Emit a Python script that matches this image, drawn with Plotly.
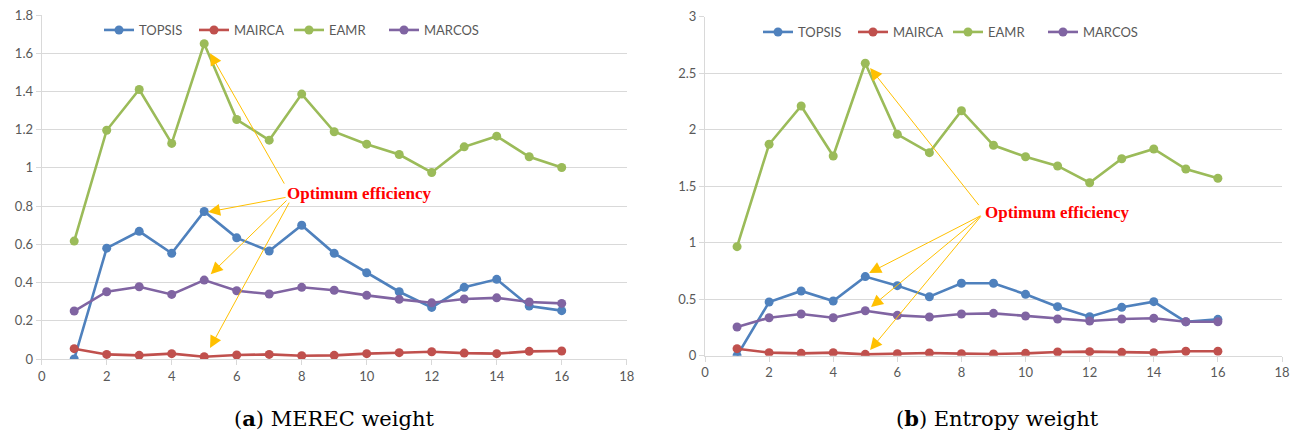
import plotly.graph_objects as go

x_alt = list(range(1, 17))
methods = ["TOPSIS", "MAIRCA", "EAMR", "MARCOS"]
colors = {"TOPSIS": "#4F81BD", "MAIRCA": "#C0504D", "EAMR": "#9BBB59", "MARCOS": "#8064A2"}

# (a) MEREC weight
merec_topsis = [0.0, 0.58, 0.668, 0.553, 0.772, 0.634, 0.565, 0.70, 0.553, 0.451, 0.352, 0.27, 0.375, 0.417, 0.277, 0.253]
merec_mairca = [0.054, 0.024, 0.019, 0.028, 0.012, 0.021, 0.024, 0.017, 0.019, 0.028, 0.033, 0.038, 0.031, 0.028, 0.040, 0.042]
merec_eamr = [0.617, 1.197, 1.41, 1.128, 1.65, 1.253, 1.145, 1.386, 1.189, 1.124, 1.07, 0.976, 1.11, 1.166, 1.058, 1.002]
merec_marcos = [0.251, 0.352, 0.378, 0.338, 0.413, 0.357, 0.34, 0.375, 0.36, 0.333, 0.312, 0.294, 0.314, 0.32, 0.298, 0.291]

# (b) Entropy weight
ent_topsis = [0.0, 0.475, 0.573, 0.484, 0.70, 0.62, 0.522, 0.641, 0.641, 0.543, 0.434, 0.345, 0.428, 0.478, 0.30, 0.322]
ent_mairca = [0.062, 0.027, 0.021, 0.027, 0.012, 0.018, 0.024, 0.018, 0.015, 0.021, 0.033, 0.036, 0.03, 0.027, 0.039, 0.039]
ent_eamr = [0.965, 1.871, 2.21, 1.767, 2.588, 1.959, 1.797, 2.168, 1.862, 1.761, 1.679, 1.531, 1.743, 1.829, 1.652, 1.570]
ent_marcos = [0.254, 0.336, 0.369, 0.336, 0.398, 0.357, 0.342, 0.369, 0.375, 0.351, 0.325, 0.307, 0.325, 0.331, 0.30, 0.30]

x_ticks = list(range(0, 19, 2))
left_y_ticks = [0, 0.2, 0.4, 0.6, 0.8, 1.0, 1.2, 1.4, 1.6, 1.8]
left_y_labels = ["0", "0.2", "0.4", "0.6", "0.8", "1", "1.2", "1.4", "1.6", "1.8"]
right_y_ticks = [0, 0.5, 1, 1.5, 2, 2.5, 3]
right_y_labels = ["0", "0.5", "1", "1.5", "2", "2.5", "3"]

captions = ["(<b>a</b>) MEREC weight", "(<b>b</b>) Entropy weight"]
note = "Optimum efficiency"

W, H = 1295, 436
GRAY = "#595959"
GRID = "#D9D9D9"
TICKFONT = dict(family="Lato, Open Sans, sans-serif", size=13, color=GRAY)

fig = go.Figure()

left = {"TOPSIS": merec_topsis, "MAIRCA": merec_mairca, "EAMR": merec_eamr, "MARCOS": merec_marcos}
right = {"TOPSIS": ent_topsis, "MAIRCA": ent_mairca, "EAMR": ent_eamr, "MARCOS": ent_marcos}

for m in methods:
    fig.add_trace(go.Scatter(x=x_alt, y=left[m], name=m, mode="lines+markers",
                             line=dict(color=colors[m], width=2.6),
                             marker=dict(color=colors[m], size=9),
                             xaxis="x", yaxis="y", legend="legend"))
for m in methods:
    fig.add_trace(go.Scatter(x=x_alt, y=right[m], name=m, mode="lines+markers",
                             line=dict(color=colors[m], width=2.6),
                             marker=dict(color=colors[m], size=9),
                             xaxis="x2", yaxis="y2", legend="legend2"))

def px_x(p):
    return p / W

def px_y(p):
    return 1 - p / H

axis_common = dict(showline=True, linecolor=GRID, linewidth=1.2, ticks="outside",
                   ticklen=5, tickcolor=GRID, tickfont=TICKFONT, zeroline=False,
                   automargin=False)

legend_font = dict(family="Lato, Open Sans, sans-serif", size=13, color=GRAY)

fig.update_layout(
    width=W, height=H,
    margin=dict(l=0, r=0, t=0, b=0, autoexpand=False),
    paper_bgcolor="white", plot_bgcolor="white",
    xaxis=dict(domain=[px_x(41.7), px_x(626.7)], range=[0, 18], tickvals=x_ticks,
               showgrid=False, anchor="y", **axis_common),
    yaxis=dict(domain=[px_y(359), px_y(15)], range=[0, 1.8], tickvals=left_y_ticks,
               ticktext=left_y_labels, showgrid=True, gridcolor=GRID, gridwidth=1.2,
               anchor="x", **axis_common),
    xaxis2=dict(domain=[px_x(705), px_x(1282)], range=[0, 18], tickvals=x_ticks,
                showgrid=False, anchor="y2", **axis_common),
    yaxis2=dict(domain=[px_y(355.7), px_y(16.7)], range=[0, 3], tickvals=right_y_ticks,
                ticktext=right_y_labels, showgrid=True, gridcolor=GRID, gridwidth=1.2,
                anchor="x2", **axis_common),
    legend=dict(orientation="h", x=px_x(99), y=px_y(30), xanchor="left", yanchor="middle",
                font=legend_font, bgcolor="rgba(0,0,0,0)", itemwidth=30,
                entrywidth=50, entrywidthmode="pixels"),
    legend2=dict(orientation="h", x=px_x(758), y=px_y(32), xanchor="left", yanchor="middle",
                 font=legend_font, bgcolor="rgba(0,0,0,0)", itemwidth=30,
                 entrywidth=50, entrywidthmode="pixels"),
)

ARROW = "#FFC000"
# arrows: (tip_x, tip_y, tail_x, tail_y) in data coordinates
left_arrows = [(5.18, 1.60, 7.49, 0.91), (5.12, 0.769, 7.55, 0.847),
               (5.2, 0.444, 7.58, 0.837), (5.18, 0.058, 7.64, 0.826)]
right_arrows = [(5.15, 2.546, 8.58, 1.319), (5.12, 0.732, 8.64, 1.245),
                (5.18, 0.431, 8.64, 1.245), (5.15, 0.05, 8.64, 1.245)]

for (tx, ty, ax, ay) in left_arrows:
    fig.add_annotation(x=tx, y=ty, ax=ax, ay=ay, xref="x", yref="y", axref="x", ayref="y",
                       text="", showarrow=True, arrowhead=2, arrowsize=2.4, arrowwidth=1,
                       arrowcolor=ARROW, standoff=0, startstandoff=0)
for (tx, ty, ax, ay) in right_arrows:
    fig.add_annotation(x=tx, y=ty, ax=ax, ay=ay, xref="x2", yref="y2", axref="x2", ayref="y2",
                       text="", showarrow=True, arrowhead=2, arrowsize=2.4, arrowwidth=1,
                       arrowcolor=ARROW, standoff=0, startstandoff=0)

note_font = dict(family="Liberation Serif, Times New Roman, serif", size=17, color="#FF0000")
fig.add_annotation(x=7.49, y=0.868, xref="x", yref="y", text="<b>" + note + "</b>",
                   showarrow=False, xanchor="left", yanchor="middle", font=note_font)
fig.add_annotation(x=8.67, y=1.263, xref="x2", yref="y2", text="<b>" + note + "</b>",
                   showarrow=False, xanchor="left", yanchor="middle", font=note_font)

cap_font = dict(family="DejaVu Serif, Liberation Serif, serif", size=21, color="#000000")
fig.add_annotation(x=px_x(334), y=px_y(418), xref="paper", yref="paper", text=captions[0],
                   showarrow=False, xanchor="center", yanchor="middle", font=cap_font)
fig.add_annotation(x=px_x(998), y=px_y(418), xref="paper", yref="paper", text=captions[1],
                   showarrow=False, xanchor="center", yanchor="middle", font=cap_font)

fig.write_html("out.html", config={"displayModeBar": False},
               post_script="document.body.style.margin='0';document.body.style.padding='0';")
